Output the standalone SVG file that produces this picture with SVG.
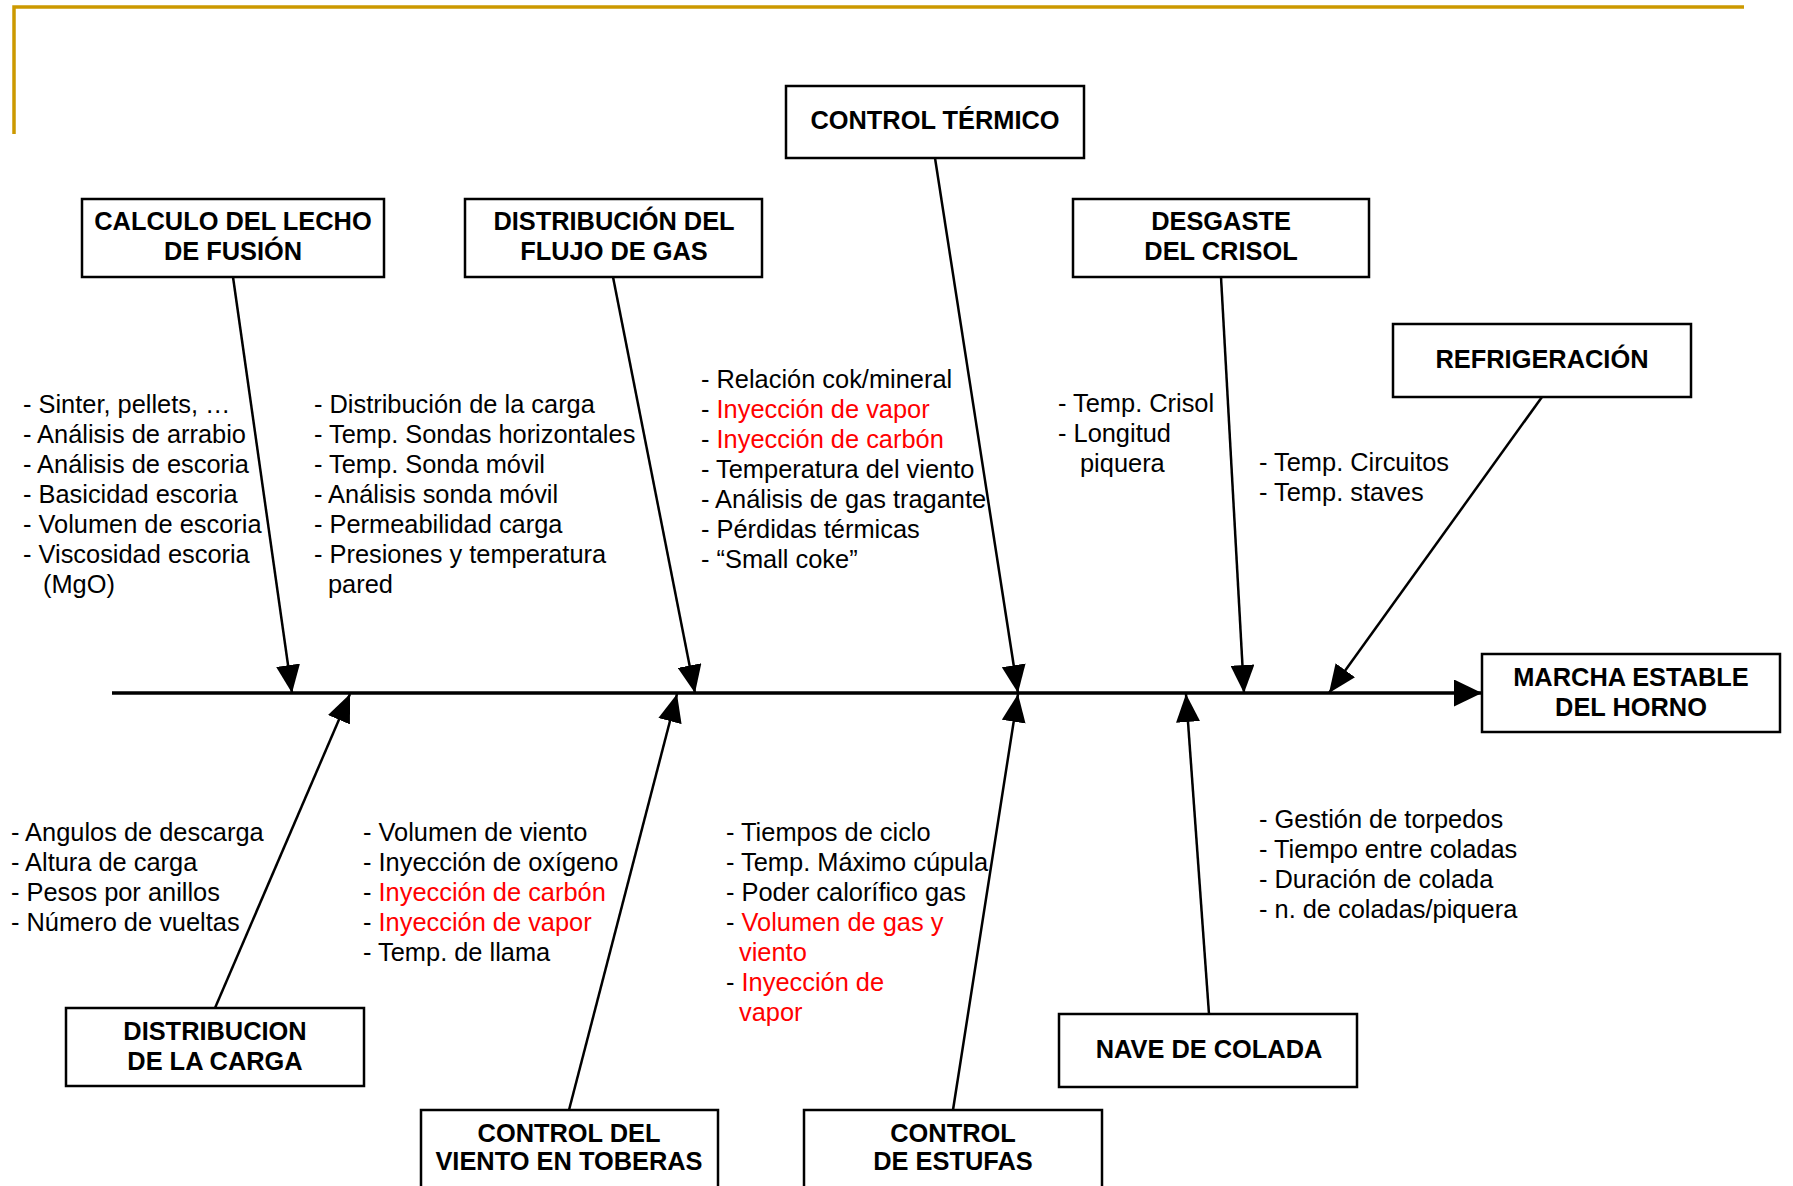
<svg xmlns="http://www.w3.org/2000/svg" width="1793" height="1186" viewBox="0 0 1793 1186">
<style>
.box{fill:#fff;stroke:#000;stroke-width:2.5}
.bt{font-family:"Liberation Sans",Arial,sans-serif;font-size:25.4px;font-weight:bold;text-anchor:middle;fill:#000}
.t{font-family:"Liberation Sans",Arial,sans-serif;font-size:25.4px;fill:#000}
.r{fill:#FF0000}
.con{stroke:#000;stroke-width:2.5;fill:none}
.spine{stroke:#000;stroke-width:3.5;fill:none}
.gold{stroke:#CC9900;stroke-width:3.5;fill:none}
</style>
<defs>
<marker id="ah" viewBox="0 0 28 24" refX="28" refY="12" markerWidth="28" markerHeight="24" markerUnits="userSpaceOnUse" orient="auto">
<path d="M0,0 L28,12 L0,24 Z" fill="#000"/>
</marker>
<marker id="ahs" viewBox="0 0 28 27" refX="28" refY="13.5" markerWidth="28" markerHeight="27" markerUnits="userSpaceOnUse" orient="auto">
<path d="M0,0 L28,13.5 L0,27 Z" fill="#000"/>
</marker>
</defs>
<rect width="1793" height="1186" fill="#fff"/>
<g id="frame">
<path class="gold" d="M14,134 V7 H1744"/>
</g>
<g id="connectors">
<line class="spine" x1="112" y1="693" x2="1482" y2="693" marker-end="url(#ahs)"/>
<line class="con" x1="233" y1="277" x2="292" y2="693" marker-end="url(#ah)"/>
<line class="con" x1="613" y1="277" x2="695" y2="693" marker-end="url(#ah)"/>
<line class="con" x1="935" y1="158" x2="1018" y2="693" marker-end="url(#ah)"/>
<line class="con" x1="1221" y1="277" x2="1244" y2="693" marker-end="url(#ah)"/>
<line class="con" x1="1542" y1="397" x2="1329" y2="693" marker-end="url(#ah)"/>
<line class="con" x1="215" y1="1008" x2="350" y2="694" marker-end="url(#ah)"/>
<line class="con" x1="569" y1="1110" x2="677" y2="694" marker-end="url(#ah)"/>
<line class="con" x1="953" y1="1110" x2="1018" y2="694" marker-end="url(#ah)"/>
<line class="con" x1="1209" y1="1014" x2="1186" y2="694" marker-end="url(#ah)"/>
</g>
<g id="node-control-termico">
<rect class="box" x="786" y="86" width="298" height="72"/>
<text class="bt" x="935" y="129">CONTROL TÉRMICO</text>
</g>
<g id="node-calculo-lecho">
<rect class="box" x="82" y="199" width="302" height="78"/>
<text class="bt" x="233" y="230">CALCULO DEL LECHO</text>
<text class="bt" x="233" y="260">DE FUSIÓN</text>
</g>
<g id="node-distribucion-flujo">
<rect class="box" x="465" y="199" width="297" height="78"/>
<text class="bt" x="614" y="230">DISTRIBUCIÓN DEL</text>
<text class="bt" x="614" y="260">FLUJO DE GAS</text>
</g>
<g id="node-desgaste-crisol">
<rect class="box" x="1073" y="199" width="296" height="78"/>
<text class="bt" x="1221" y="230">DESGASTE</text>
<text class="bt" x="1221" y="260">DEL CRISOL</text>
</g>
<g id="node-refrigeracion">
<rect class="box" x="1393" y="324" width="298" height="73"/>
<text class="bt" x="1542" y="368">REFRIGERACIÓN</text>
</g>
<g id="node-marcha-estable">
<rect class="box" x="1482" y="654" width="298" height="78"/>
<text class="bt" x="1631" y="686">MARCHA ESTABLE</text>
<text class="bt" x="1631" y="716">DEL HORNO</text>
</g>
<g id="node-distribucion-carga">
<rect class="box" x="66" y="1008" width="298" height="78"/>
<text class="bt" x="215" y="1040">DISTRIBUCION</text>
<text class="bt" x="215" y="1070">DE LA CARGA</text>
</g>
<g id="node-control-viento">
<rect class="box" x="421" y="1110" width="297" height="100"/>
<text class="bt" x="569" y="1142">CONTROL DEL</text>
<text class="bt" x="569" y="1170">VIENTO EN TOBERAS</text>
</g>
<g id="node-control-estufas">
<rect class="box" x="804" y="1110" width="298" height="100"/>
<text class="bt" x="953" y="1142">CONTROL</text>
<text class="bt" x="953" y="1170">DE ESTUFAS</text>
</g>
<g id="node-nave-colada">
<rect class="box" x="1059" y="1014" width="298" height="73"/>
<text class="bt" x="1209" y="1058">NAVE DE COLADA</text>
</g>
<g id="causes-calculo-lecho">
<text class="t" x="23" y="413">- Sinter, pellets, …</text>
<text class="t" x="23" y="443">- Análisis de arrabio</text>
<text class="t" x="23" y="473">- Análisis de escoria</text>
<text class="t" x="23" y="503">- Basicidad escoria</text>
<text class="t" x="23" y="533">- Volumen de escoria</text>
<text class="t" x="23" y="563">- Viscosidad escoria</text>
<text class="t" x="43" y="593">(MgO)</text>
</g>
<g id="causes-distribucion-flujo">
<text class="t" x="314" y="413">- Distribución de la carga</text>
<text class="t" x="314" y="443">- Temp. Sondas horizontales</text>
<text class="t" x="314" y="473">- Temp. Sonda móvil</text>
<text class="t" x="314" y="503">- Análisis sonda móvil</text>
<text class="t" x="314" y="533">- Permeabilidad carga</text>
<text class="t" x="314" y="563">- Presiones y temperatura</text>
<text class="t" x="328" y="593">pared</text>
</g>
<g id="causes-control-termico">
<text class="t" x="701" y="388">- Relación cok/mineral</text>
<text class="t" x="701" y="418">- <tspan class="r">Inyección de vapor</tspan></text>
<text class="t" x="701" y="448">- <tspan class="r">Inyección de carbón</tspan></text>
<text class="t" x="701" y="478">- Temperatura del viento</text>
<text class="t" x="701" y="508">- Análisis de gas tragante</text>
<text class="t" x="701" y="538">- Pérdidas térmicas</text>
<text class="t" x="701" y="568">- “Small coke”</text>
</g>
<g id="causes-desgaste-crisol">
<text class="t" x="1058" y="412">- Temp. Crisol</text>
<text class="t" x="1058" y="442">- Longitud</text>
<text class="t" x="1080" y="472">piquera</text>
</g>
<g id="causes-refrigeracion">
<text class="t" x="1259" y="471">- Temp. Circuitos</text>
<text class="t" x="1259" y="501">- Temp. staves</text>
</g>
<g id="causes-distribucion-carga">
<text class="t" x="11" y="841">- Angulos de descarga</text>
<text class="t" x="11" y="871">- Altura de carga</text>
<text class="t" x="11" y="901">- Pesos por anillos</text>
<text class="t" x="11" y="931">- Número de vueltas</text>
</g>
<g id="causes-control-viento">
<text class="t" x="363" y="841">- Volumen de viento</text>
<text class="t" x="363" y="871">- Inyección de oxígeno</text>
<text class="t" x="363" y="901">- <tspan class="r">Inyección de carbón</tspan></text>
<text class="t" x="363" y="931">- <tspan class="r">Inyección de vapor</tspan></text>
<text class="t" x="363" y="961">- Temp. de llama</text>
</g>
<g id="causes-control-estufas">
<text class="t" x="726" y="841">- Tiempos de ciclo</text>
<text class="t" x="726" y="871">- Temp. Máximo cúpula</text>
<text class="t" x="726" y="901">- Poder calorífico gas</text>
<text class="t" x="726" y="931">- <tspan class="r">Volumen de gas y</tspan></text>
<text class="t r" x="739" y="961">viento</text>
<text class="t" x="726" y="991">- <tspan class="r">Inyección de</tspan></text>
<text class="t r" x="739" y="1021">vapor</text>
</g>
<g id="causes-nave-colada">
<text class="t" x="1259" y="828">- Gestión de torpedos</text>
<text class="t" x="1259" y="858">- Tiempo entre coladas</text>
<text class="t" x="1259" y="888">- Duración de colada</text>
<text class="t" x="1259" y="918">- n. de coladas/piquera</text>
</g>
</svg>
